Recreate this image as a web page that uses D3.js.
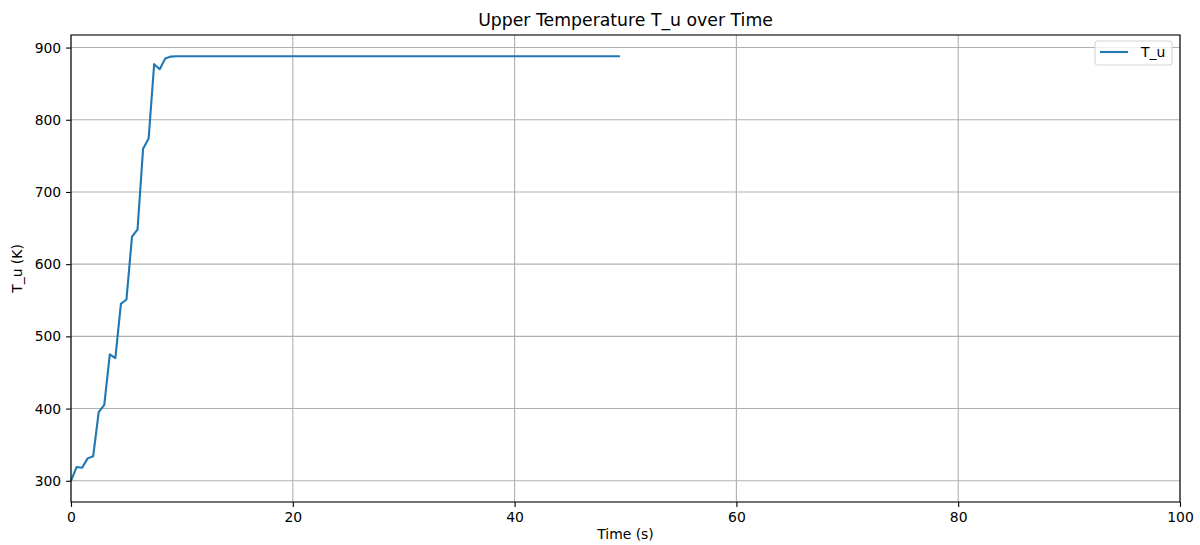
<!DOCTYPE html>
<html>
<head>
<meta charset="utf-8">
<script src="https://cdn.jsdelivr.net/npm/d3@7.9.0/dist/d3.min.js"></script>
<style>
  html, body { margin: 0; padding: 0; background: #fff; }
  svg { display: block; font-family: "DejaVu Sans", sans-serif; }
</style>
</head>
<body>
<svg id="chart" width="1200" height="545"></svg>
<script>
// time in seconds, upper temperature in K
const times  = [0, 0.5, 1, 1.5, 2, 2.5, 3, 3.5, 4, 4.5, 5, 5.5, 6, 6.5, 7, 7.5, 8, 8.5, 9, 9.5, 10, 20, 30, 40, 49.5];
const tempU  = [300, 319, 318, 331, 334, 395, 405, 475, 470, 545, 551, 638, 648, 760, 774, 877, 870, 885, 887.5, 888, 888, 888, 888, 888, 888];
const xTicks = [0, 20, 40, 60, 80, 100];
const yTicks = [300, 400, 500, 600, 700, 800, 900];

const W = 1200, H = 545;
const m = { left: 71, right: 20, top: 35, bottom: 43 };
const svg = d3.select('#chart');

const x = d3.scaleLinear().domain([0, 100]).range([m.left, W - m.right]);
const y = d3.scaleLinear().domain([270.6, 917.4]).range([H - m.bottom, m.top]);

// grid
const grid = svg.append('g').attr('stroke', '#b0b0b0').attr('stroke-width', 1.1);
grid.selectAll('line.vx').data(xTicks).join('line')
  .attr('x1', d => x(d)).attr('x2', d => x(d))
  .attr('y1', m.top).attr('y2', H - m.bottom);
grid.selectAll('line.hy').data(yTicks).join('line')
  .attr('x1', m.left).attr('x2', W - m.right)
  .attr('y1', d => y(d)).attr('y2', d => y(d));

// line
const pts = times.map((t, i) => [t, tempU[i]]);
svg.append('path')
  .datum(pts)
  .attr('fill', 'none')
  .attr('stroke', '#1f77b4')
  .attr('stroke-width', 2.1)
  .attr('stroke-linejoin', 'round')
  .attr('d', d3.line().x(d => x(d[0])).y(d => y(d[1])));

// axes
const xAxis = svg.append('g')
  .attr('transform', `translate(0,${H - m.bottom})`)
  .call(d3.axisBottom(x).tickValues(xTicks).tickSize(4.9).tickPadding(4.9));
const yAxis = svg.append('g')
  .attr('transform', `translate(${m.left},0)`)
  .call(d3.axisLeft(y).tickValues(yTicks).tickSize(4.9).tickPadding(4.9));
[xAxis, yAxis].forEach(a => {
  a.select('.domain').remove();
  a.selectAll('text').attr('font-size', 13.9).attr('fill', '#000')
    .attr('font-family', '"DejaVu Sans", sans-serif');
  a.selectAll('line').attr('stroke', '#000').attr('stroke-width', 1.1);
});

// frame
svg.append('rect')
  .attr('x', m.left).attr('y', m.top)
  .attr('width', W - m.right - m.left).attr('height', H - m.bottom - m.top)
  .attr('fill', 'none').attr('stroke', '#000').attr('stroke-width', 1.1);

// title & labels
svg.append('text').attr('x', (m.left + W - m.right) / 2).attr('y', 26)
  .attr('text-anchor', 'middle').attr('font-size', 17.3).text('Upper Temperature T_u over Time');
svg.append('text').attr('x', (m.left + W - m.right) / 2).attr('y', 539)
  .attr('text-anchor', 'middle').attr('font-size', 13.9).text('Time (s)');
svg.append('text')
  .attr('transform', `translate(22,${(m.top + H - m.bottom) / 2}) rotate(-90)`)
  .attr('text-anchor', 'middle').attr('font-size', 13.9).text('T_u (K)');

// legend
const lg = svg.append('g').attr('transform', `translate(${W - m.right - 85},${m.top + 6})`);
lg.append('rect').attr('width', 77).attr('height', 24).attr('rx', 3)
  .attr('fill', '#fff').attr('fill-opacity', 0.8)
  .attr('stroke', '#d6d6d6').attr('stroke-width', 1.1);
lg.append('line').attr('x1', 5).attr('x2', 33).attr('y1', 11).attr('y2', 11)
  .attr('stroke', '#1f77b4').attr('stroke-width', 2.1);
lg.append('text').attr('x', 46).attr('y', 16).attr('font-size', 13.9).text('T_u');
</script>
</body>
</html>
